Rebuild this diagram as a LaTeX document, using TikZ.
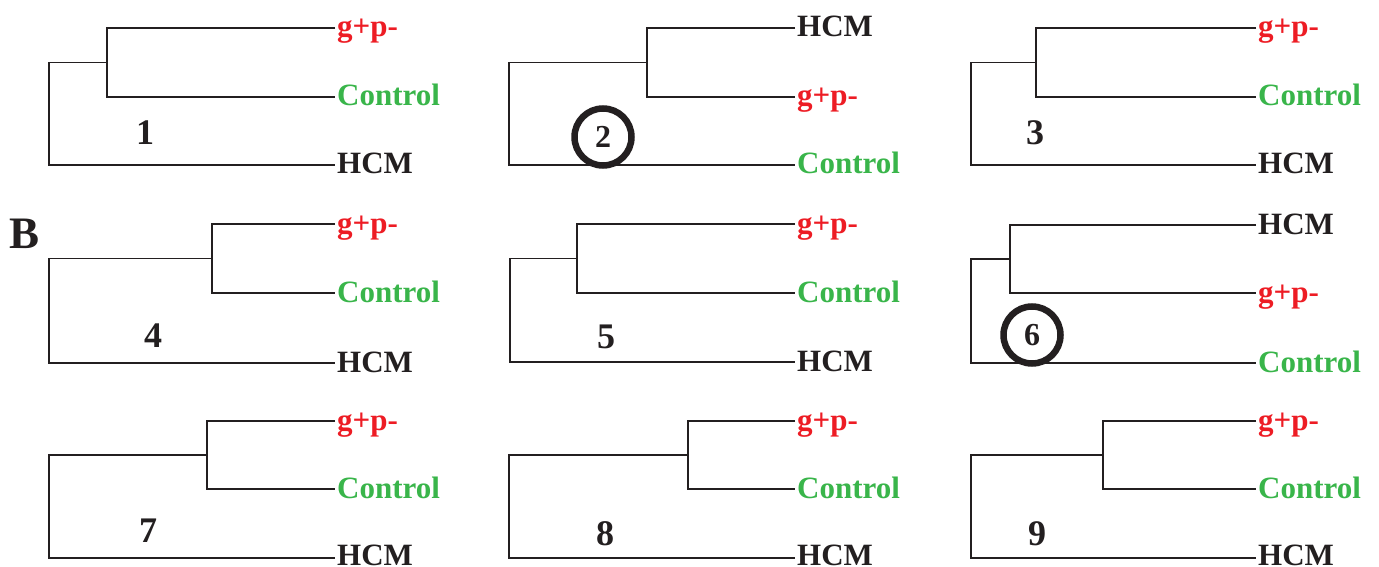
\documentclass[tikz,border=0pt]{standalone}
\usepackage{fontspec}
\setmainfont{Liberation Serif}
\definecolor{labred}{RGB}{237,28,36}
\definecolor{labgreen}{RGB}{57,181,74}
\definecolor{ink}{RGB}{35,31,32}
\tikzset{
  branch/.style={line width=1.7pt, ink},
  leaf/.style={anchor=base west, inner sep=0pt, font=\fontsize{31}{31}\selectfont\bfseries},
  gp/.style={leaf, text=labred},
  ctl/.style={leaf, text=labgreen},
  hcm/.style={leaf, text=ink},
  treeno/.style={anchor=base, inner sep=0pt, text=ink, font=\fontsize{36}{36}\selectfont\bfseries},
  ringno/.style={circle, draw=ink, line width=6.5pt, minimum size=57pt, inner sep=0pt,
    text=ink, font=\fontsize{32}{32}\selectfont\bfseries},
  panel/.style={anchor=base west, inner sep=0pt, text=ink, font=\fontsize{45}{45}\selectfont\bfseries}
}
% \dtree{name}{root x}{inner x}{tip x}{top y}{middle y}{bottom y}
\newcommand\dtree[7]{%
  \coordinate (#1-i) at (#3,{(#5+#6)/2});
  \coordinate (#1-r) at (#2,#7);
  \coordinate (#1-a) at (#4,#5);
  \coordinate (#1-b) at (#4,#6);
  \coordinate (#1-c) at (#4,#7);
  \draw[branch] (#1-a) -| (#1-i) |- (#1-b);
  \draw[branch] (#1-i) -| (#1-r) -- (#1-c);
}
\begin{document}
\begin{tikzpicture}[x=1pt,y=-1pt]
\useasboundingbox (0,0) rectangle (1379,567);

% row 1
\dtree{t1}{49}{107}{335}{28}{97}{165}
\dtree{t2}{509}{647}{795}{28}{97}{165}
\dtree{t3}{971}{1036}{1256}{28}{97}{165}
% row 2
\dtree{t4}{49}{212}{335}{224}{293}{363}
\dtree{t5}{510}{577}{795}{224}{293}{362}
\dtree{t6}{971}{1010}{1256}{225}{293}{363}
% row 3
\dtree{t7}{49}{207}{335}{421}{489}{558}
\dtree{t8}{509}{688}{795}{421}{489}{558}
\dtree{t9}{971}{1103}{1256}{421}{489}{558}

% leaf labels, baseline a little below each tip
\foreach \t in {t1,t3,t4,t5}{
  \node[gp]  (\t-la) at ([xshift=2pt,yshift=-9pt]\t-a) {g+p-};
  \node[ctl] (\t-lb) at ([xshift=2pt,yshift=-9pt]\t-b) {Control};
  \node[hcm] (\t-lc) at ([xshift=2pt,yshift=-9pt]\t-c) {HCM};
}
% bottom row: last label kept clear of the lower edge
\foreach \t in {t7,t8,t9}{
  \node[gp]  (\t-la) at ([xshift=2pt,yshift=-9pt]\t-a) {g+p-};
  \node[ctl] (\t-lb) at ([xshift=2pt,yshift=-9pt]\t-b) {Control};
  \node[hcm] (\t-lc) at ([xshift=2pt,yshift=-7pt]\t-c) {HCM};
}
\foreach \t in {t2,t6}{
  \node[hcm] (\t-la) at ([xshift=2pt,yshift=-9pt]\t-a) {HCM};
  \node[gp]  (\t-lb) at ([xshift=2pt,yshift=-9pt]\t-b) {g+p-};
  \node[ctl] (\t-lc) at ([xshift=2pt,yshift=-9pt]\t-c) {Control};
}

% tree numbers
\node[treeno] (n1) at (145,145) {1};
\node[ringno] (n2) at (603,137) {2};
\node[treeno] (n3) at (1035,145) {3};
\node[treeno] (n4) at (153,347) {4};
\node[treeno] (n5) at (606,348) {5};
\node[ringno] (n6) at (1032,335) {6};
\node[treeno] (n7) at (148,542) {7};
\node[treeno] (n8) at (605,545) {8};
\node[treeno] (n9) at (1037,545) {9};

% panel letter
\node[panel] (lblB) at (9,248) {B};
\end{tikzpicture}
\end{document}
